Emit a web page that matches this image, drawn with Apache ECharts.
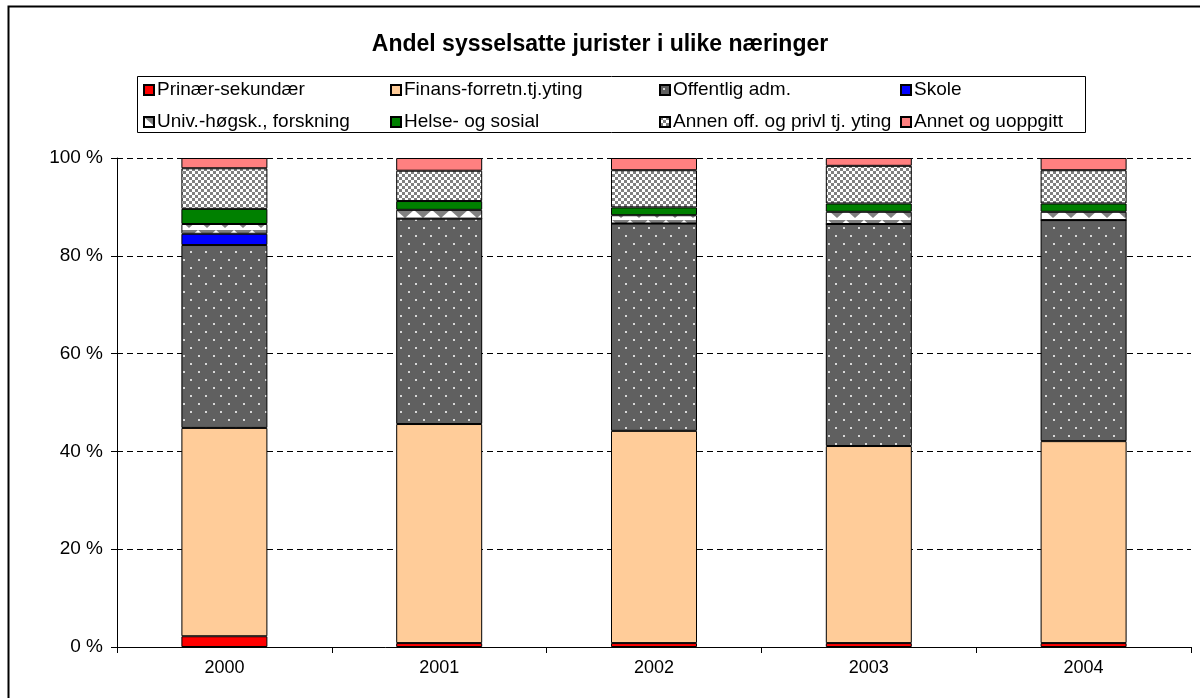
<!DOCTYPE html>
<html>
<head>
<meta charset="utf-8">
<script src="https://cdn.jsdelivr.net/npm/echarts@6/dist/echarts.min.js"></script>
<style>
  html, body { margin: 0; padding: 0; background: #fff; }
  #chart { width: 1200px; height: 698px; }
</style>
</head>
<body>
<div id="chart"></div>
<script>
const years = ['2000', '2001', '2002', '2003', '2004'];
const yTicks = [0, 20, 40, 60, 80, 100];

const primer    = [2.2, 0.8, 0.8, 0.8, 0.8];
const finans    = [42.6, 44.8, 43.4, 40.3, 41.3];
const offentlig = [37.4, 42.0, 42.4, 45.4, 45.2];
const skole     = [2.3, 0, 0, 0, 0];
const univ      = [2.0, 1.8, 1.7, 2.5, 1.7];
const helse     = [3.1, 1.8, 1.6, 1.7, 1.7];
const annen     = [8.3, 6.2, 7.6, 7.7, 6.8];
const annet     = [2.1, 2.6, 2.5, 1.6, 2.5];

const names = [
  'Prinær-sekundær', 'Finans-forretn.tj.yting', 'Offentlig adm.', 'Skole',
  'Univ.-høgsk., forskning', 'Helse- og sosial', 'Annen off. og privl tj. yting', 'Annet og uoppgitt'
];

function makePattern(w, h, draw) {
  const c = document.createElement('canvas');
  c.width = w; c.height = h;
  draw(c.getContext('2d'));
  return { image: c, repeat: 'repeat' };
}

// dark grey with white dots
const dotPattern = makePattern(15, 16, ctx => {
  ctx.fillStyle = '#606060';
  ctx.fillRect(0, 0, 15, 16);
  ctx.fillStyle = '#d8d8d8';
  ctx.fillRect(3, 3, 2, 2);
  ctx.fillRect(10, 11, 2, 2);
});

// grey / white checkerboard
const checkPattern = makePattern(6, 6, ctx => {
  ctx.fillStyle = '#ffffff';
  ctx.fillRect(0, 0, 6, 6);
  ctx.fillStyle = '#808080';
  ctx.fillRect(0, 0, 3, 3);
  ctx.fillRect(3, 3, 3, 3);
});

// white with grey zigzag
const zigPattern = makePattern(18, 10, ctx => {
  ctx.fillStyle = '#ffffff';
  ctx.fillRect(0, 0, 18, 10);
  ctx.fillStyle = '#808080';
  ctx.beginPath();
  ctx.moveTo(0, 0);
  ctx.lineTo(18, 0);
  ctx.lineTo(9, 8);
  ctx.closePath();
  ctx.fill();
});

const seriesData = [primer, finans, offentlig, skole, univ, helse, annen, annet];
const seriesColors = ['#ff0000', '#ffcc99', dotPattern, '#0000ff', zigPattern, '#008000', checkPattern, '#ff8080'];

// one legend per item so the columns line up like the original
const legendCols = [143, 390, 659, 900];
const legendRows = [80, 112];
const legends = names.map((n, i) => ({
  data: [n],
  left: legendCols[i % 4],
  top: legendRows[Math.floor(i / 4)],
  icon: 'rect',
  itemWidth: 10,
  itemHeight: 10,
  itemGap: 0,
  padding: 0,
  textStyle: { fontFamily: 'Liberation Sans', fontSize: 19, color: '#000', lineHeight: 20, padding: [0, 0, 0, -2] }
}));

const chart = echarts.init(document.getElementById('chart'), null, { renderer: 'canvas' });

chart.setOption({
  animation: false,
  backgroundColor: '#fff',
  title: {
    text: 'Andel sysselsatte jurister i ulike næringer',
    left: 'center',
    top: 28,
    textStyle: { fontFamily: 'Liberation Sans', fontSize: 23, fontWeight: 'bold', color: '#000' }
  },
  legend: legends,
  graphic: [
    {
      type: 'rect',
      shape: { x: 8.5, y: 6.5, width: 1300, height: 800 },
      style: { fill: null, stroke: '#000', lineWidth: 2 },
      silent: true
    },
    {
      type: 'rect',
      shape: { x: 137.5, y: 76.5, width: 948, height: 56 },
      style: { fill: null, stroke: '#000', lineWidth: 1 },
      silent: true
    }
  ],
  grid: { left: 117, right: 9, top: 158, bottom: 51 },
  xAxis: {
    type: 'category',
    data: years,
    axisLine: { lineStyle: { color: '#000', width: 1 } },
    axisTick: { show: true, alignWithLabel: false, length: 6, lineStyle: { color: '#000' } },
    axisLabel: { fontFamily: 'Liberation Sans', fontSize: 18, color: '#000', margin: 12 }
  },
  yAxis: {
    type: 'value',
    min: yTicks[0],
    max: yTicks[yTicks.length - 1],
    interval: 20,
    axisLine: { show: true, lineStyle: { color: '#000' } },
    axisTick: { show: true, length: 6, lineStyle: { color: '#000' } },
    axisLabel: {
      fontFamily: 'Liberation Sans', fontSize: 19, color: '#000', margin: 14,
      formatter: v => v + ' %'
    },
    splitLine: { show: true, lineStyle: { color: '#000', type: [6, 4], width: 1 } }
  },
  series: names.map((n, i) => ({
    name: n,
    type: 'bar',
    stack: 'total',
    barWidth: 86,
    data: seriesData[i],
    itemStyle: { color: seriesColors[i], borderColor: '#000', borderWidth: 1 }
  }))
});
</script>
</body>
</html>
